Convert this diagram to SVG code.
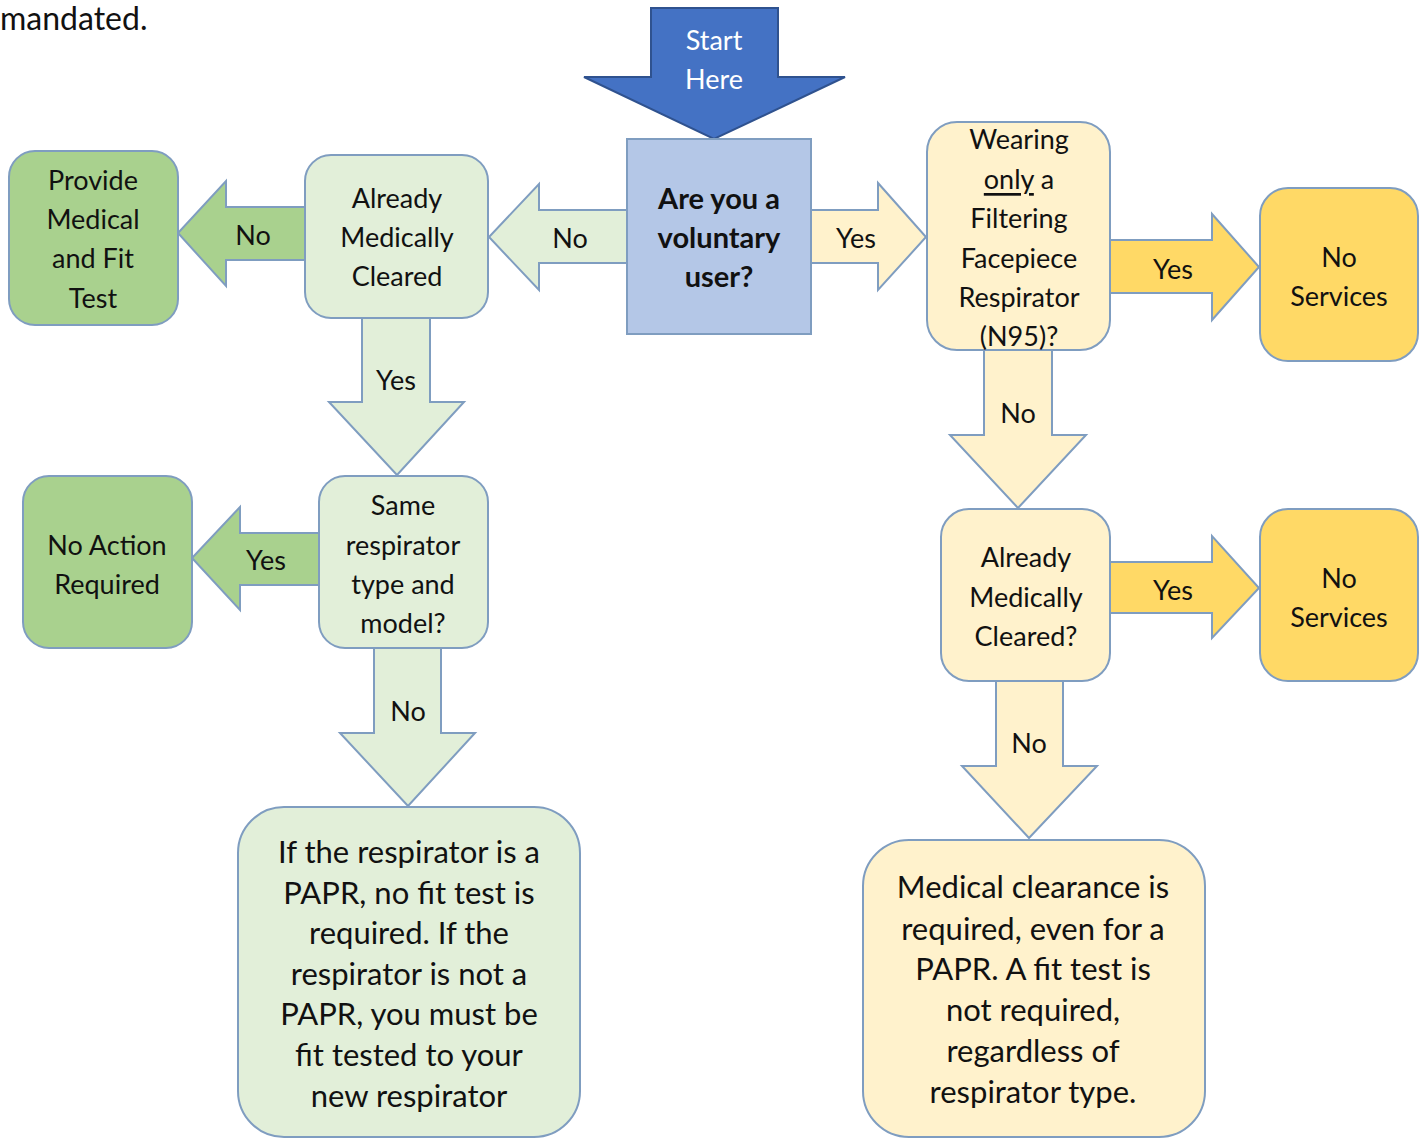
<svg xmlns="http://www.w3.org/2000/svg" width="1426" height="1139" viewBox="0 0 1426 1139">
<style>
text{font-family:Lato,"Open Sans","Liberation Sans",sans-serif;fill:#111;text-anchor:middle;dominant-baseline:central;font-size:27px}
.box{stroke:#7F9DC0;stroke-width:2}
.arr{stroke:#7F9DC0;stroke-width:2;stroke-linejoin:miter}
.lg{fill:#E2EFD9}.dg{fill:#A9D18E}.ly{fill:#FFF2CC}.gd{fill:#FFD966}
.big{font-size:31px}
.bold{font-weight:bold;font-size:29px}
</style>
<rect width="1426" height="1139" fill="#fff"/>
<text x="0" y="17" style="text-anchor:start;font-size:32px">mandated.</text>
<g id="connectors">
<g id="start-arrow">
<polygon points="651,8 778,8 778,77 845,77 714,139 584,77 651,77" fill="#4472C4" stroke="#2F528F" stroke-width="2"/>
<text x="714" y="39" style="fill:#fff">Start</text>
<text x="714" y="78" style="fill:#fff">Here</text>
</g>
<g id="c-center-amc">
<polygon class="arr lg" points="627,210 539,210 539,184 489,237 539,290 539,263 627,263"/>
<text x="570" y="237">No</text>
</g>
<g id="c-amc-provide">
<polygon class="arr dg" points="305,207 226,207 226,181 178,233 226,286 226,260 305,260"/>
<text x="253" y="234">No</text>
</g>
<g id="c-amc-same">
<polygon class="arr lg" points="362,318 430,318 430,402 464,402 397,475 329,402 362,402"/>
<text x="396" y="379">Yes</text>
</g>
<g id="c-same-noaction">
<polygon class="arr dg" points="319,533 240,533 240,507 192,558 240,610 240,585 319,585"/>
<text x="266" y="559">Yes</text>
</g>
<g id="c-same-papr">
<polygon class="arr lg" points="374,648 441,648 441,733 475,733 408,806 340,733 374,733"/>
<text x="408" y="710">No</text>
</g>
<g id="c-center-wearing">
<polygon class="arr ly" points="811,210 878,210 878,183 926,237 878,290 878,263 811,263"/>
<text x="856" y="237">Yes</text>
</g>
<g id="c-wearing-nos1">
<polygon class="arr gd" points="1110,240 1212,240 1212,214 1259,267 1212,320 1212,293 1110,293"/>
<text x="1173" y="268">Yes</text>
</g>
<g id="c-wearing-amc2">
<polygon class="arr ly" points="984,350 1052,350 1052,435 1086,435 1018,508 950,435 984,435"/>
<text x="1018" y="412">No</text>
</g>
<g id="c-amc2-nos2">
<polygon class="arr gd" points="1110,562 1212,562 1212,536 1259,588 1212,638 1212,613 1110,613"/>
<text x="1173" y="589">Yes</text>
</g>
<g id="c-amc2-medclear">
<polygon class="arr ly" points="996,681 1063,681 1063,766 1097,766 1029,838 962,766 996,766"/>
<text x="1029" y="742">No</text>
</g>
</g>
<g id="n-center">
<rect class="box" x="627" y="139" width="184" height="195" fill="#B4C7E7"/>
<text class="bold" x="719" y="197">Are you a</text>
<text class="bold" x="719" y="236">voluntary</text>
<text class="bold" x="719" y="275">user?</text>
</g>
<g id="n-amc">
<rect class="box lg" x="305" y="155" width="183" height="163" rx="26"/>
<text x="397" y="197">Already</text>
<text x="397" y="236">Medically</text>
<text x="397" y="275">Cleared</text>
</g>
<g id="n-provide">
<rect class="box dg" x="9" y="151" width="169" height="174" rx="26"/>
<text x="93" y="179">Provide</text>
<text x="93" y="218">Medical</text>
<text x="93" y="257">and Fit</text>
<text x="93" y="297">Test</text>
</g>
<g id="n-same">
<rect class="box lg" x="319" y="476" width="169" height="172" rx="26"/>
<text x="403" y="504">Same</text>
<text x="403" y="544">respirator</text>
<text x="403" y="583">type and</text>
<text x="403" y="622">model?</text>
</g>
<g id="n-noaction">
<rect class="box dg" x="23" y="476" width="169" height="172" rx="26"/>
<text x="107" y="544">No Action</text>
<text x="107" y="583">Required</text>
</g>
<g id="n-papr">
<rect class="box lg" x="238" y="807" width="342" height="330" rx="46"/>
<text class="big" x="409" y="851">If the respirator is a</text>
<text class="big" x="409" y="892">PAPR, no fit test is</text>
<text class="big" x="409" y="932">required. If the</text>
<text class="big" x="409" y="973">respirator is not a</text>
<text class="big" x="409" y="1013">PAPR, you must be</text>
<text class="big" x="409" y="1054">fit tested to your</text>
<text class="big" x="409" y="1095">new respirator</text>
</g>
<g id="n-wearing">
<rect class="box ly" x="927" y="122" width="183" height="228" rx="30"/>
<text x="1019" y="138">Wearing</text>
<text x="1019" y="178"><tspan text-decoration="underline">only</tspan> a</text>
<text x="1019" y="217">Filtering</text>
<text x="1019" y="257">Facepiece</text>
<text x="1019" y="296">Respirator</text>
<text x="1019" y="335">(N95)?</text>
</g>
<g id="n-noservices1">
<rect class="box gd" x="1260" y="188" width="158" height="173" rx="28"/>
<text x="1339" y="256">No</text>
<text x="1339" y="295">Services</text>
</g>
<g id="n-amc2">
<rect class="box ly" x="941" y="509" width="169" height="172" rx="28"/>
<text x="1026" y="556">Already</text>
<text x="1026" y="596">Medically</text>
<text x="1026" y="635">Cleared?</text>
</g>
<g id="n-noservices2">
<rect class="box gd" x="1260" y="509" width="158" height="172" rx="28"/>
<text x="1339" y="577">No</text>
<text x="1339" y="616">Services</text>
</g>
<g id="n-medclear">
<rect class="box ly" x="863" y="840" width="342" height="297" rx="46"/>
<text class="big" x="1033" y="886">Medical clearance is</text>
<text class="big" x="1033" y="928">required, even for a</text>
<text class="big" x="1033" y="968">PAPR. A fit test is</text>
<text class="big" x="1033" y="1009">not required,</text>
<text class="big" x="1033" y="1050">regardless of</text>
<text class="big" x="1033" y="1091">respirator type.</text>
</g>
</svg>
